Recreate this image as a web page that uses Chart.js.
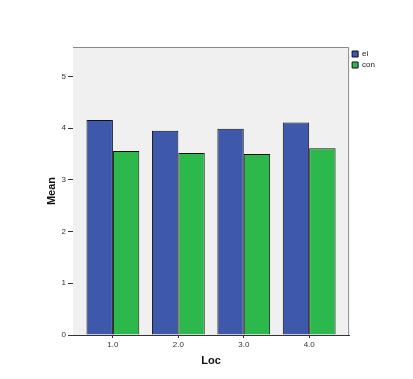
<!DOCTYPE html>
<html>
<head>
<meta charset="utf-8">
<script src="https://cdn.jsdelivr.net/npm/chart.js@4/dist/chart.umd.min.js"></script>
<style>
  html, body { margin: 0; padding: 0; background: #ffffff; }
  #wrap { width: 413px; height: 379px; }
</style>
</head>
<body>
<div id="wrap"><canvas id="chart" width="413" height="379"></canvas></div>
<script>
// Data
const locs = [1, 2, 3, 4];
const eiMeans = [4.16, 3.95, 3.99, 4.11];
const conMeans = [3.56, 3.52, 3.50, 3.61];
const yTicks = [0, 1, 2, 3, 4, 5];

// Plot background + frame, SPSS style
const plotFrame = {
    id: 'plotFrame',
    beforeDatasetsDraw(chart) {
        const { ctx, chartArea: a } = chart;
        ctx.save();
        ctx.fillStyle = '#f0f0f0';
        ctx.fillRect(a.left, a.top, a.right - a.left, a.bottom - a.top);
        ctx.restore();
    },
    afterDatasetsDraw(chart) {
        const { ctx, chartArea: a } = chart;
        ctx.save();
        ctx.strokeStyle = '#8a8a8a';
        ctx.lineWidth = 1;
        ctx.beginPath();
        ctx.moveTo(a.left, a.top + 0.5);
        ctx.lineTo(a.right - 0.5, a.top + 0.5);
        ctx.lineTo(a.right - 0.5, a.bottom);
        ctx.stroke();
        ctx.restore();
    }
};

const tickFont = { family: 'Arial, "Liberation Sans", sans-serif', size: 8 };
const titleFont = { family: 'Arial, "Liberation Sans", sans-serif', size: 11, weight: 'bold' };

new Chart(document.getElementById('chart'), {
    type: 'bar',
    data: {
        datasets: [
            {
                label: 'ei',
                data: locs.map((x, i) => ({ x: x, y: eiMeans[i] })),
                backgroundColor: '#3e58ac',
                borderColor: '#111111',
                borderWidth: 1
            },
            {
                label: 'con',
                data: locs.map((x, i) => ({ x: x, y: conMeans[i] })),
                backgroundColor: '#2db84b',
                borderColor: '#111111',
                borderWidth: 1
            }
        ]
    },
    options: {
        responsive: false,
        animation: false,
        categoryPercentage: 0.807,
        barPercentage: 1,
        layout: { padding: { left: 0, top: 47, right: 28, bottom: 0 } },
        plugins: {
            legend: {
                position: 'right',
                align: 'start',
                labels: {
                    boxWidth: 6,
                    boxHeight: 6,
                    padding: 3,
                    color: '#222',
                    font: { family: 'Arial, "Liberation Sans", sans-serif', size: 8 }
                }
            },
            tooltip: { enabled: false }
        },
        scales: {
            x: {
                type: 'linear',
                offset: false,
                min: 0.39,
                max: 4.61,
                afterBuildTicks: s => { s.ticks = locs.map(v => ({ value: v })); },
                afterFit: s => { s.height = 44; },
                ticks: {
                    color: '#333',
                    font: tickFont,
                    padding: 2,
                    callback: v => Number(v).toFixed(1)
                },
                grid: { offset: false, drawOnChartArea: false, drawTicks: true, tickLength: 3, color: '#333' },
                border: { color: '#333', width: 1 },
                title: { display: true, text: 'Loc', color: '#111', font: titleFont, padding: { top: 0, bottom: 11 } }
            },
            y: {
                min: 0,
                max: 5.57,
                afterBuildTicks: s => { s.ticks = yTicks.map(v => ({ value: v })); },
                afterFit: s => { s.width = 73; },
                ticks: { color: '#333', font: tickFont, padding: 2 },
                grid: { drawOnChartArea: false, drawTicks: true, tickLength: 5, color: '#333' },
                border: { color: '#333', width: 1 },
                title: { display: true, text: 'Mean', color: '#111', font: titleFont, padding: { top: 45, bottom: 0 } }
            }
        }
    },
    plugins: [plotFrame]
});
</script>
</body>
</html>
